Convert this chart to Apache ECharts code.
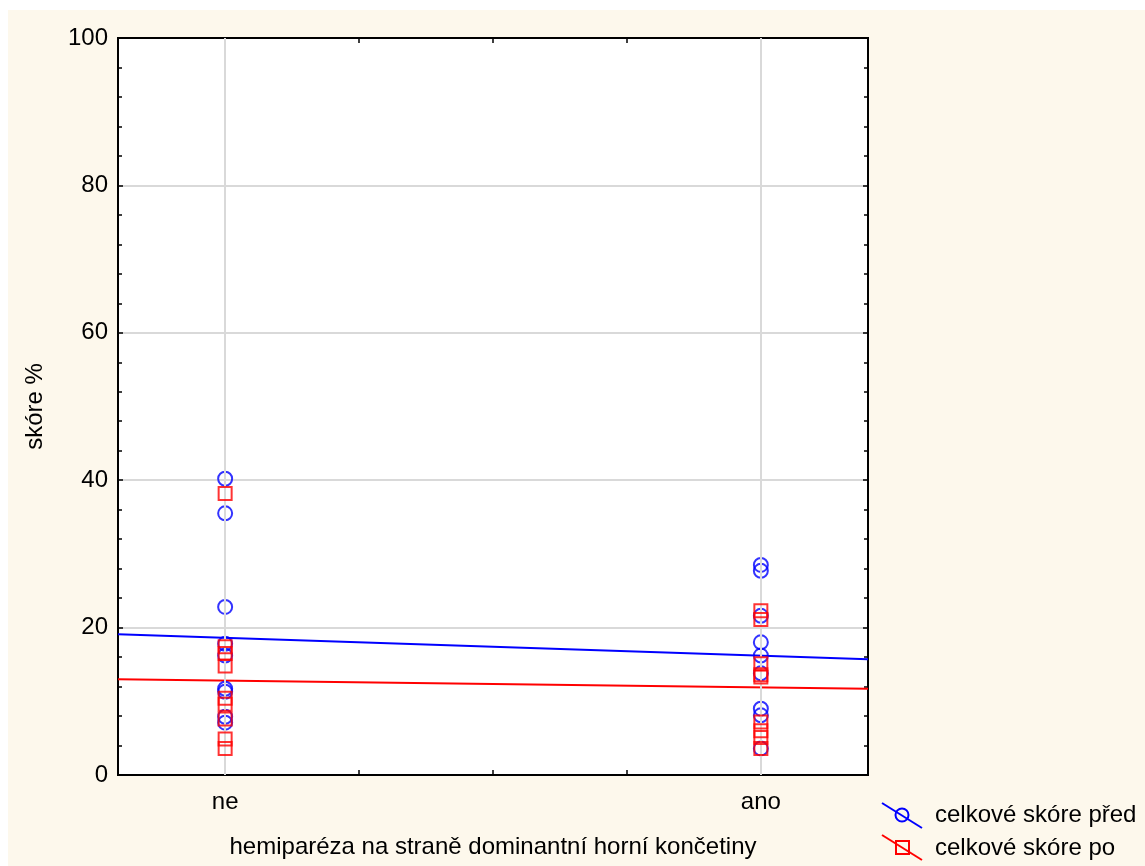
<!DOCTYPE html>
<html>
<head>
<meta charset="utf-8">
<script src="https://cdn.jsdelivr.net/npm/echarts@6/dist/echarts.min.js"></script>
<style>
  html, body { margin: 0; padding: 0; background: #ffffff; }
  #frame { position: absolute; left: 8px; top: 10px; width: 1137px; height: 856px; background: #fdf8ec; }
  #chart { position: absolute; left: 0; top: 0; width: 1145px; height: 866px; }
</style>
</head>
<body>
<div id="frame"></div>
<div id="chart"></div>
<script>
// Group labels on the x axis (0 = ne, 1 = ano)
const categories = ['ne', 'ano'];

// Total score before treatment, per group
const preNe  = [40.2, 35.5, 22.8, 17.8, 16.2, 11.7, 11.3, 7.9, 7.1];
const preAno = [28.5, 27.7, 21.6, 18.0, 16.2, 13.8, 9.0, 8.1, 3.6];

// Total score after treatment, per group
const postNe  = [38.2, 17.4, 16.5, 14.8, 10.4, 9.6, 7.6, 4.9, 3.6];
const postAno = [22.3, 21.1, 15.1, 13.6, 13.3, 7.2, 6.0, 5.1, 3.6];

// Linear fit values at the two ends of the x range
const fitPre  = [19.1, 15.7];
const fitPost = [13.0, 11.7];

// y axis tick values
const yTicks = [0, 20, 40, 60, 80, 100];
// x axis tick positions (group positions and quarter steps between them)
const xTicks = [0, 0.25, 0.5, 0.75, 1];

const seriesNames = ['celkové skóre před', 'celkové skóre po'];
const xMin = -0.2, xMax = 1.2;

function pts(idx, arr) { return arr.map(v => [idx, v]); }

const font = 'Liberation Sans, Arial, sans-serif';
const fs = 24;
const tickCommon = { show: true, inside: true, length: 5, lineStyle: { color: '#000', width: 1.5 } };
const minorCommon = { show: true, splitNumber: 5, length: 4, lineStyle: { color: '#000', width: 1.5 } };
const axisLineCommon = { show: true, onZero: false, lineStyle: { color: '#000', width: 2 } };

const chart = echarts.init(document.getElementById('chart'), null, { renderer: 'canvas' });

chart.setOption({
  animation: false,
  grid: {
    left: 118, top: 38, right: 277, bottom: 91,
    show: true, backgroundColor: '#ffffff', borderColor: '#000', borderWidth: 2
  },
  xAxis: [
    {
      type: 'value', min: xMin, max: xMax, position: 'bottom',
      name: 'hemiparéza na straně dominantní horní končetiny',
      nameLocation: 'middle', nameGap: 60,
      nameTextStyle: { fontFamily: font, fontSize: fs, color: '#000' },
      axisLine: axisLineCommon,
      axisTick: Object.assign({ customValues: xTicks }, tickCommon),
      axisLabel: {
        customValues: [0, 1], margin: 15,
        fontFamily: font, fontSize: fs, color: '#000',
        formatter: v => categories[Math.round(v)]
      },
      splitLine: { show: false }
    },
    {
      type: 'value', min: xMin, max: xMax, position: 'top',
      axisLine: axisLineCommon,
      axisTick: Object.assign({ customValues: xTicks }, tickCommon),
      axisLabel: { show: false },
      splitLine: { show: false }
    }
  ],
  yAxis: [
    {
      type: 'value', min: yTicks[0], max: yTicks[yTicks.length - 1], interval: yTicks[1] - yTicks[0],
      position: 'left',
      name: 'skóre %', nameLocation: 'middle', nameGap: 71, nameRotate: 90,
      nameTextStyle: { fontFamily: font, fontSize: fs, color: '#000' },
      axisLine: axisLineCommon,
      axisTick: tickCommon,
      minorTick: minorCommon,
      axisLabel: { margin: 10, fontFamily: font, fontSize: fs, color: '#000' },
      splitLine: { show: true, lineStyle: { color: '#d9d9d9', width: 2 } }
    },
    {
      type: 'value', min: yTicks[0], max: yTicks[yTicks.length - 1], interval: yTicks[1] - yTicks[0],
      position: 'right',
      axisLine: axisLineCommon,
      axisTick: tickCommon,
      minorTick: minorCommon,
      axisLabel: { show: false },
      splitLine: { show: false }
    }
  ],
  series: [
    {
      // vertical reference lines through the two groups
      type: 'line', data: [], silent: true, z: 1,
      markLine: {
        silent: true, symbol: 'none', label: { show: false },
        lineStyle: { color: '#d9d9d9', width: 2, type: 'solid' },
        data: categories.map((c, i) => ({ xAxis: i }))
      }
    },
    {
      name: seriesNames[0] + ' fit', type: 'line', showSymbol: false, silent: true, z: 3,
      lineStyle: { color: '#0000ff', width: 2 },
      data: [[xMin, fitPre[0]], [xMax, fitPre[1]]]
    },
    {
      name: seriesNames[1] + ' fit', type: 'line', showSymbol: false, silent: true, z: 3,
      lineStyle: { color: '#ff0000', width: 2 },
      data: [[xMin, fitPost[0]], [xMax, fitPost[1]]]
    },
    {
      name: seriesNames[0], type: 'scatter', symbol: 'circle', symbolSize: 14, z: 4,
      itemStyle: { color: 'rgba(0,0,0,0)', borderColor: '#0000ff', borderWidth: 2 },
      data: pts(0, preNe).concat(pts(1, preAno))
    },
    {
      name: seriesNames[1], type: 'scatter', symbol: 'rect', symbolSize: 13, z: 5,
      itemStyle: { color: 'rgba(0,0,0,0)', borderColor: '#ff0000', borderWidth: 2 },
      data: pts(0, postNe).concat(pts(1, postAno))
    }
  ],
  graphic: [
    // legend: line with marker, then label
    { type: 'line', shape: { x1: 882, y1: 803, x2: 922, y2: 828 }, style: { stroke: '#0000ff', lineWidth: 2 } },
    { type: 'circle', shape: { cx: 902, cy: 815, r: 6.5 }, style: { fill: 'none', stroke: '#0000ff', lineWidth: 2 } },
    { type: 'text', left: 935, top: 803, style: { text: seriesNames[0], font: fs + 'px ' + font, fill: '#000' } },
    { type: 'line', shape: { x1: 882, y1: 835, x2: 922, y2: 860 }, style: { stroke: '#ff0000', lineWidth: 2 } },
    { type: 'rect', shape: { x: 896, y: 841, width: 13, height: 13 }, style: { fill: 'none', stroke: '#ff0000', lineWidth: 2 } },
    { type: 'text', left: 935, top: 836, style: { text: seriesNames[1], font: fs + 'px ' + font, fill: '#000' } }
  ]
});
</script>
</body>
</html>
